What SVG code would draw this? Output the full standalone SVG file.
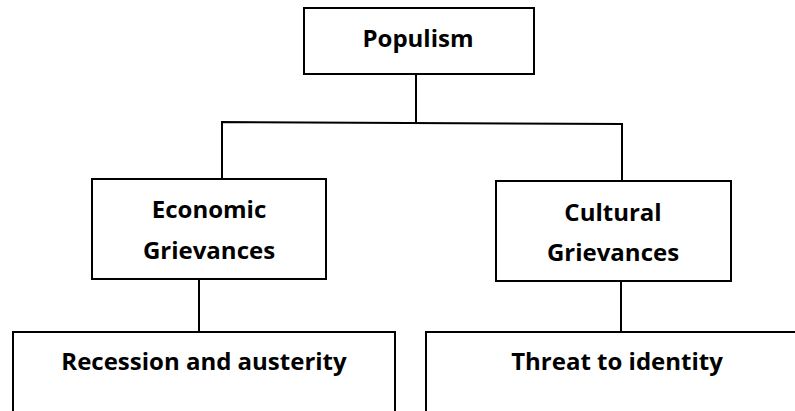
<svg xmlns="http://www.w3.org/2000/svg" width="795" height="411" viewBox="0 0 795 411">
<style>
.box{fill:#fff;stroke:#000;stroke-width:2}
.lbl{font-family:"Open Sans","Liberation Sans",sans-serif;font-weight:bold;font-size:24px;fill:#000;text-anchor:middle}
.con{fill:none;stroke:#000;stroke-width:2}
</style>
<rect width="795" height="411" fill="#fff"/>
<g id="connectors">
<path class="con" d="M416 74 V123"/>
<path class="con" d="M222 179 V122 L622 124 V181"/>
<path class="con" d="M199 279 V332"/>
<path class="con" d="M621 281 V332"/>
</g>
<g id="populism">
<rect class="box" x="304" y="8" width="230" height="66"/>
<text class="lbl" x="418" y="47">Populism</text>
</g>
<g id="economic">
<rect class="box" x="92" y="179" width="234" height="100"/>
<text class="lbl" x="209" y="218">Economic</text>
<text class="lbl" x="209" y="259">Grievances</text>
</g>
<g id="cultural">
<rect class="box" x="496" y="181" width="235" height="100"/>
<text class="lbl" x="613" y="221">Cultural</text>
<text class="lbl" x="613" y="261">Grievances</text>
</g>
<g id="recession">
<rect class="box" x="13" y="332" width="382" height="100"/>
<text class="lbl" x="204" y="370">Recession and austerity</text>
</g>
<g id="threat">
<rect class="box" x="426" y="332" width="400" height="100"/>
<text class="lbl" x="617" y="370">Threat to identity</text>
</g>
</svg>
